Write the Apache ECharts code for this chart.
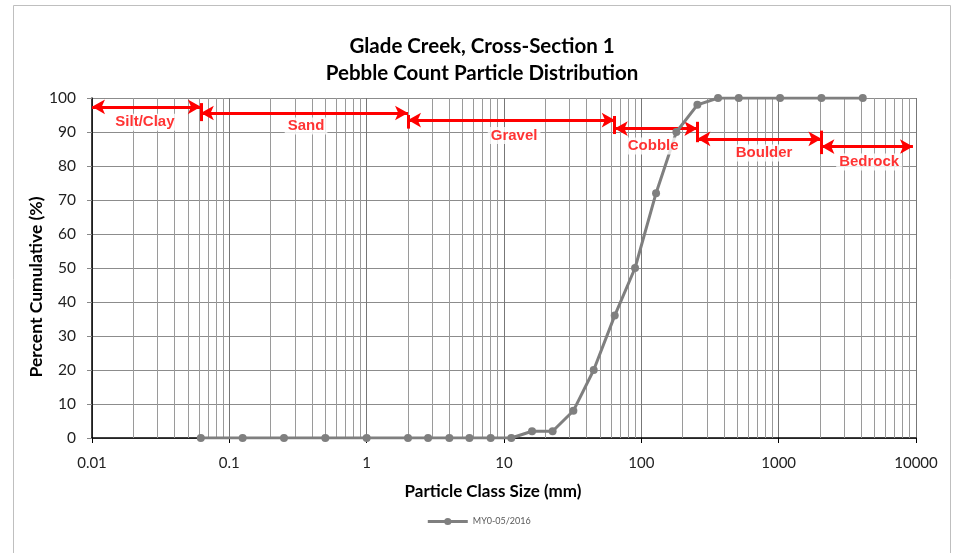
<!DOCTYPE html>
<html>
<head>
<meta charset="utf-8">
<script src="https://cdn.jsdelivr.net/npm/echarts@6/dist/echarts.min.js"></script>
<style>
html,body{margin:0;padding:0;background:#fff;}
#chart{width:957px;height:553px;}
</style>
</head>
<body>
<div id="chart"></div>
<script>
// Particle class sizes (mm) and cumulative percent
const sizes = [0.062, 0.125, 0.25, 0.5, 1, 2, 2.8, 4, 5.6, 8, 11.3, 16, 22.6, 32, 45, 64, 90, 128, 180, 256, 362, 512, 1024, 2048, 4096];
const cumulative = [0, 0, 0, 0, 0, 0, 0, 0, 0, 0, 0, 2, 2, 8, 20, 36, 50, 72, 90, 98, 100, 100, 100, 100, 100];
const seriesName = 'MY0-05/2016';

// Axis tick labels
const xTickLabels = ['0.01', '0.1', '1', '10', '100', '1000', '10000'];
const decades = [0.01, 0.1, 1, 10, 100, 1000];
const minorMultipliers = [2, 3, 4, 5, 6, 7, 8, 9];

// Size class annotations
const bandNames = ['Silt/Clay', 'Sand', 'Gravel', 'Cobble', 'Boulder', 'Bedrock'];
const bandFrom = [0.01, 0.062, 2, 64, 256, 2048];
const bandTo = [0.062, 2, 64, 256, 2048, 9500];
const arrowY = [97.4, 95.6, 93.5, 91.0, 88.0, 85.7];
const boundaryX = [0.062, 2, 64, 256, 2048];
const boundaryTop = [98.5, 95.0, 94.7, 93.0, 90.4];
const boundaryBottom = [93.2, 91.0, 89.4, 87.0, 83.5];
const labelX = [0.0243, 0.362, 11.85, 121.9, 783, 4562];
const labelY = [92.9, 91.8, 89.0, 85.9, 83.8, 81.2];

const minorX = [];
decades.forEach(d => minorMultipliers.forEach(m => minorX.push(+(d * m).toPrecision(6))));

const chart = echarts.init(document.getElementById('chart'));

const arrowLines = bandNames.map((n, i) => [
  { coord: [bandFrom[i], arrowY[i]] },
  { coord: [bandTo[i], arrowY[i]] }
]);
const boundaryLines = boundaryX.map((x, i) => [
  { coord: [x, boundaryTop[i]] },
  { coord: [x, boundaryBottom[i]] }
]);

const option = {
  backgroundColor: '#fff',
  animation: false,
  title: {
    text: 'Glade Creek, Cross-Section 1\nPebble Count Particle Distribution',
    left: 477,
    textAlign: 'center',
    top: 28,
    textStyle: { fontFamily: 'Lato', fontWeight: 'bold', fontSize: 20.5, lineHeight: 27, color: '#000' }
  },
  graphic: [{
    type: 'rect', silent: true, z: -10,
    shape: { x: 13.5, y: 5.5, width: 937, height: 560 },
    style: { fill: 'none', stroke: '#bfbfbf', lineWidth: 1 }
  }],
  legend: {
    bottom: 22,
    left: 'center',
    itemWidth: 40,
    itemHeight: 9,
    itemGap: 4,
    lineStyle: { width: 3 },
    textStyle: { fontFamily: 'Lato', fontSize: 9, color: '#595959', padding: [0, 0, 0, 0] },
    data: [seriesName]
  },
  grid: { left: 92, right: 41, top: 98, bottom: 115, containLabel: false },
  xAxis: {
    type: 'log',
    logBase: 10,
    min: 0.01,
    max: 10000,
    name: 'Particle Class Size (mm)',
    nameLocation: 'middle',
    nameGap: 45,
    nameTextStyle: { fontFamily: 'Lato', fontWeight: 'bold', fontSize: 17, color: '#000', padding: [0, 22, 0, 0] },
    axisLine: { show: true, onZero: false, lineStyle: { color: '#000', width: 1.5 } },
    axisTick: { show: true, length: 5, lineStyle: { color: '#000' } },
    axisLabel: {
      margin: 18,
      fontFamily: 'Lato', fontSize: 15, color: '#222',
      formatter: function (v) {
        const e = Math.round(Math.log10(v));
        return xTickLabels[e + 2];
      }
    },
    splitLine: { show: true, lineStyle: { color: '#777', width: 1 } }
  },
  yAxis: {
    type: 'value',
    min: 0,
    max: 100,
    interval: 10,
    name: 'Percent Cumulative (%)',
    nameLocation: 'middle',
    nameGap: 47,
    nameMoveOverlap: false,
    nameTextStyle: { fontFamily: 'Lato', fontWeight: 'bold', fontSize: 17.5, color: '#000', padding: [0, 38, 0, 0] },
    axisLine: { show: true, lineStyle: { color: '#000', width: 1.5 } },
    axisTick: { show: true, length: 5, lineStyle: { color: '#888' } },
    axisLabel: { margin: 16, fontFamily: 'Lato', fontSize: 15.5, color: '#222' },
    splitLine: { show: true, lineStyle: { color: '#8c8c8c', width: 1 } }
  },
  series: [
    {
      name: 'minor-grid',
      type: 'line',
      data: [],
      silent: true,
      z: 1,
      markLine: {
        silent: true,
        symbol: ['none', 'none'],
        label: { show: false },
        animation: false,
        lineStyle: { color: '#9a9a9a', type: 'solid', width: 1 },
        data: minorX.map(x => ({ xAxis: x }))
      }
    },
    {
      name: seriesName,
      type: 'line',
      data: sizes.map((s, i) => [s, cumulative[i]]),
      symbol: 'circle',
      symbolSize: 8,
      showSymbol: true,
      z: 5,
      lineStyle: { color: '#7f7f7f', width: 3 },
      itemStyle: { color: '#7f7f7f' }
    },
    {
      name: 'arrows',
      type: 'line',
      data: [],
      silent: true,
      z: 6,
      markLine: {
        silent: true,
        symbol: ['arrow', 'arrow'],
        symbolSize: [11, 13],
        label: { show: false },
        animation: false,
        lineStyle: { color: '#ff0000', type: 'solid', width: 3 },
        data: arrowLines
      }
    },
    {
      name: 'boundaries',
      type: 'line',
      data: [],
      silent: true,
      z: 6,
      markLine: {
        silent: true,
        symbol: ['none', 'none'],
        label: { show: false },
        animation: false,
        lineStyle: { color: '#ff0000', type: 'solid', width: 3 },
        data: boundaryLines
      }
    },
    {
      name: 'band-labels',
      type: 'scatter',
      silent: true,
      z: 7,
      symbolSize: 0,
      data: bandNames.map((n, i) => ({ value: [labelX[i], labelY[i]], name: n })),
      label: {
        show: true,
        position: 'inside',
        formatter: p => p.name,
        fontFamily: 'Liberation Sans',
        fontWeight: 'bold',
        fontSize: 15,
        color: '#ff0000',
        backgroundColor: '#fff',
        padding: [1, 3]
      }
    }
  ]
};
chart.setOption(option);
</script>
</body>
</html>
